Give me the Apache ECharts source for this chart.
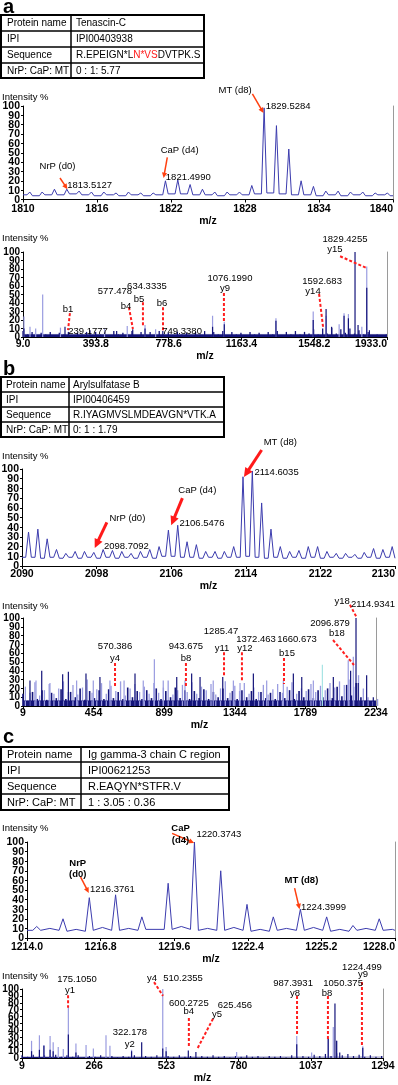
<!DOCTYPE html>
<html>
<head>
<meta charset="utf-8">
<script src="https://cdn.jsdelivr.net/npm/echarts@6/dist/echarts.min.js"></script>
<style>
  html, body { margin: 0; padding: 0; background: #fff; }
  #main { width: 398px; height: 1085px; }
</style>
</head>
<body>
<div id="main"></div>
<script>
// intensity ticks shared by all six spectra
const yTicks = [0, 10, 20, 30, 40, 50, 60, 70, 80, 90, 100];

// ---- panel a : MS spectrum (isotope peaks) ----
const aMsMz = [1810.55, 1811.55, 1812.55, 1813.55, 1814.55, 1815.55, 1816.55, 1817.55, 1818.55, 1819.55,
  1820.55, 1821.55, 1822.55, 1823.55, 1824.55, 1825.55, 1826.55, 1827.55, 1828.55, 1829.55,
  1830.55, 1831.55, 1832.55, 1833.55, 1834.55, 1835.55, 1836.55, 1837.55, 1838.55, 1839.55];
const aMsInt = [8, 8, 11, 11, 9, 8, 8, 7, 8, 7, 7, 20, 21, 16, 11, 8, 8, 8, 15, 98, 79, 54, 20, 14, 9, 9, 8, 8, 7, 7];
const aMsBase = [5, 4, 5, 5, 6, 5, 4, 5, 4, 5, 4, 5, 6, 6, 5, 5, 4, 5, 5, 6, 7, 6, 5, 5, 4, 5, 4, 5, 4, 5, 4];
const aMsTicks = [1810, 1816, 1822, 1828, 1834, 1840];
const aMsLabels = [[1827.2, 117, 'MT (d8)'], [1831.5, 100, '1829.5284'], [1822.7, 53, 'CaP (d4)'],
  [1823.4, 24, '1821.4990'], [1812.8, 35, 'NrP (d0)'], [1815.4, 15.5, '1813.5127']];
const aMsArrows = [[1828.6, 113, 1829.5, 92.5], [1821.7, 45, 1821.4, 23], [1813.0, 23, 1813.6, 11]];

// ---- panel a : MS/MS ----
const aMs2Floor = 3;
const aMs2Noise = [7, 3, 6, 2, 5, 3, 6, 2, 5, 3, 6, 2, 5, 3, 6, 2, 6, 3, 6, 2, 7, 3, 5, 3, 7, 2, 6,
  3, 6, 2, 7, 3, 5, 2, 6, 3, 5, 2, 6, 3, 7, 2, 6, 3, 7, 2, 6, 3, 5, 2, 6, 3, 5, 2,
  6, 3, 7, 2, 6, 3, 7, 3, 6, 4, 9, 3, 10, 4, 11, 4, 9, 5, 10, 4, 8, 3, 6, 2, 3, 2, 3];
const aMs2Light = [[14, 24], [46, 12], [76, 10], [113, 50], [207, 11], [440, 10], [560, 13], [654, 14], [710, 9],
  [1011, 25], [1073, 18], [1346, 22], [1543, 30], [1611, 25], [1680, 15], [1706, 28], [1729, 27], [1800, 12], [1826, 83]];
const aMs2Dark = [[14, 10], [231, 12], [363, 8], [504, 7], [589, 9], [654, 10], [748, 7], [1011, 12], [1073, 15],
  [1346, 19], [1543, 20], [1611, 33], [1640, 12], [1706, 25], [1729, 22], [1764, 100], [1780, 14], [1826, 58], [1840, 8]];
const aMs2Ticks = [9.0, 393.8, 778.6, 1163.4, 1548.2, 1933.0];
const aMs2Labels = [[1711, 115, '1829.4255'], [1658, 103.5, 'y15'], [1103, 69, '1076.1990'], [1077, 57.6, 'y9'],
  [1590, 66, '1592.683'], [1542, 54, 'y14'], [664, 60, '634.3335'], [622, 44.7, 'b5'], [495, 54, '577.478'],
  [553, 36.5, 'b4'], [744, 40, 'b6'], [850, 7, '749.3380'], [247, 33, 'b1'], [353, 7, '239.1777']];
const aMs2Lines = [[1685, 95, 1827, 81], [1071, 51.8, 1071, 17.6], [1574, 50.6, 1595, 11.8], [643, 41, 643, 13],
  [569, 35, 590, 9.4], [749, 35, 749, 8], [257, 28, 247, 8]];

// ---- panel b : MS ----
const bMsMz = [2090.7, 2091.7, 2092.7, 2093.7, 2094.7, 2095.7, 2096.7, 2097.7, 2098.7, 2099.7,
  2100.7, 2101.7, 2102.7, 2103.7, 2104.7, 2105.7, 2106.7, 2107.7, 2108.7, 2109.7,
  2110.7, 2111.7, 2112.7, 2113.7, 2114.7, 2115.7, 2116.7, 2117.7, 2118.7, 2119.7,
  2120.7, 2121.7, 2122.7, 2123.7, 2124.7, 2125.7, 2126.7, 2127.7, 2128.7, 2129.7];
const bMsInt = [35, 38, 28, 17, 13, 15, 15, 14, 17, 16, 15, 13, 15, 17, 20, 37, 42, 25, 22, 15,
  15, 15, 20, 92, 98, 65, 38, 20, 15, 16, 20, 20, 15, 13, 13, 12, 14, 18, 17, 20];
const bMsBase = [9, 9, 8, 9, 8, 9, 8, 9, 8, 9, 8, 9, 8, 9, 8, 10, 10, 9, 9, 8, 9, 8, 9, 9, 10, 9,
  8, 9, 8, 9, 8, 9, 8, 9, 8, 9, 8, 9, 8, 9, 8];
const bMsTicks = [2090, 2098, 2106, 2114, 2122, 2130];
const bMsLabels = [[2117.7, 127, 'MT (d8)'], [2117.3, 97, '2114.6035'], [2108.8, 78, 'CaP (d4)'],
  [2109.3, 44, '2106.5476'], [2101.3, 49.5, 'NrP (d0)'], [2101.2, 20.6, '2098.7092']];
const bMsArrows = [[2115.7, 119.6, 2113.8, 91.8], [2107.2, 70, 2106.0, 42], [2099.1, 45, 2097.8, 18.6]];

// ---- panel b : MS/MS ----
const bMs2Floor = 6;
const bMs2Noise = [14, 6, 16, 8, 18, 7, 15, 9, 19, 8, 16, 10, 20, 7, 17, 9, 18, 8,
  19, 9, 16, 8, 21, 10, 17, 8, 18, 9, 20, 8, 17, 10, 21, 9, 18, 8,
  17, 9, 19, 8, 16, 10, 20, 9, 17, 8, 18, 10, 17, 8, 16, 9, 15, 8,
  16, 9, 18, 8, 17, 10, 19, 9, 18, 10, 20, 9, 22, 11, 24, 12, 26, 10, 6, 3, 5];
const bMs2NoiseLight = [22, 15, 27, 12, 18, 25, 14, 20, 28, 16, 24, 13, 21, 30, 15, 19, 26, 14,
  23, 17, 28, 12, 20, 25, 16, 22, 14, 26, 15, 21, 29, 13, 18, 24, 16, 27,
  14, 22, 18, 25, 13, 20, 28, 15, 23, 17, 26, 14, 21, 16, 24, 13, 19, 25,
  15, 22, 27, 14, 20, 17, 25, 16, 23, 18, 26, 21, 28, 24, 30, 22, 35, 20, 10, 5, 8];
const bMs2Light = [[91, 29], [179, 26], [347, 29], [452, 29], [557, 29], [646, 29], [767, 29], [837, 53], [893, 29],
  [1030, 29], [1208, 29], [1335, 29], [1377, 26], [1545, 29], [1650, 29], [1839, 29], [2059, 52], [2091, 56]];
const bMs2Cyan = [[1896, 47]];
const bMs2Dark = [[53, 29], [127, 40], [259, 36], [295, 39], [406, 37], [494, 33], [715, 37], [978, 33], [1072, 37],
  [1125, 33], [1268, 33], [1461, 37], [1713, 37], [1766, 33], [1965, 33], [2074, 40], [2108, 100], [2122, 26],
  [2175, 35], [2217, 10]];
const bMs2Ticks = [9, 454, 899, 1344, 1789, 2234];
const bMs2Labels = [[2020, 119, 'y18'], [2215, 116, '2114.9341'], [1944, 94, '2096.879'], [1988, 82, 'b18'],
  [1257, 85, '1285.47'], [1263, 65, 'y11'], [1478, 76, '1372.463'], [1408, 65, 'y12'], [1736, 76, '1660.673'],
  [1673, 60, 'b15'], [1036, 68, '943.675'], [1036, 54.5, 'b8'], [589, 68, '570.386'], [589, 54.5, 'y4']];
const bMs2Lines = [[2070, 115, 2114, 100], [1963, 75, 2095, 46.6], [1276, 61, 1276, 33], [1389, 61, 1389, 27],
  [1654, 54.5, 1654, 25], [1036, 49, 1036, 21.6], [589, 49, 589, 21.6]];

// ---- panel c : MS ----
const cMsMz = [1214.37, 1215.37, 1216.37, 1217.37, 1218.37, 1219.37, 1220.37, 1221.37, 1222.37, 1223.37,
  1224.40, 1225.40, 1226.40, 1227.40];
const cMsInt = [12, 20, 42, 45, 22, 57, 100, 70, 35, 22, 30, 22, 13, 20];
const cMsBase = [8, 8, 7, 8, 8, 9, 9, 8, 8, 7, 8, 8, 7, 8, 8];
const cMsMid = [10, 9, 11, 10, 9, 12, 10, 11, 9, 10, 11, 9, 10, 9];
const cMsTicks = [1214.0, 1216.8, 1219.6, 1222.4, 1225.2, 1228.0];
const cMsLabels = [[1219.84, 114.6, 'CaP', 1], [1219.84, 102, '(d4)', 1], [1221.3, 108, '1220.3743'],
  [1215.93, 78, 'NrP', 1], [1215.93, 66.7, '(d0)', 1], [1217.25, 51, '1216.3761'],
  [1224.44, 60, 'MT (d8)', 1], [1225.28, 32, '1224.3999']];
const cMsArrows = [[1219.52, 109, 1220.36, 99], [1216.04, 63.5, 1216.35, 47], [1224.18, 52, 1224.37, 30]];

// ---- panel c : MS/MS ----
const cMs2Floor = 1.5;
const cMs2Noise = [4, 2, 5, 2, 4, 3, 5, 2, 4, 2, 4, 1, 3, 2, 4, 2, 3, 1, 3, 2, 4, 1, 3, 2, 4, 2, 3,
  2, 4, 2, 3, 1, 3, 2, 4, 2, 3, 1, 3, 2, 4, 2, 3, 1, 3, 2, 3, 1, 4, 2, 3, 2, 5, 3,
  6, 3, 7, 4, 6, 3, 5, 2, 4, 2, 3];
const cMs2Light = [[43, 25], [71, 33], [87, 19], [109, 32], [120, 23], [138, 16], [156, 13], [174, 74], [201, 21],
  [237, 19], [263, 14], [308, 33], [322, 18], [399, 12], [510, 100], [522, 16], [773, 9], [987, 32], [1040, 8],
  [1099, 28], [1117, 45], [1129, 25], [1222, 17]];
const cMs2Dark = [[43, 10], [71, 12], [87, 18], [109, 12], [120, 10], [174, 34], [201, 8], [399, 10], [435, 23],
  [510, 14], [522, 10], [601, 11], [628, 9], [987, 20], [1099, 29], [1123, 79], [1129, 25], [1140, 8], [1222, 15]];
const cMs2Ticks = [9, 266, 523, 780, 1037, 1294];
const cMs2Labels = [[205, 114, '175.1050'], [180, 97.5, 'y1'], [472, 116, 'y4'], [582, 116, '510.2355'],
  [393, 36.7, '322.178'], [393, 20, 'y2'], [603, 78.5, '600.2725'], [603, 67, 'b4'], [767, 76, '625.456'],
  [703, 63, 'y5'], [974, 107.6, '987.3931'], [981, 93.7, 'y8'], [1152, 107.6, '1050.375'], [1095, 93.7, 'b8'],
  [1219, 131.6, '1224.499'], [1223, 121.5, 'y9']];
const cMs2Lines = [[173, 91, 173, 73], [479, 110, 511, 90], [603, 58, 603, 16.5], [689, 57, 632, 12.7],
  [988, 90, 988, 33], [1098, 90, 1098, 26.6], [1219, 110, 1219, 16.5]];

// ---- tables ----
const tableA = [['Protein name', 'Tenascin-C'], ['IPI', 'IPI00403938'],
  ['Sequence', ['R.EPEIGN*L', 'N*VS', 'DVTPK.S']], ['NrP: CaP: MT', '0 : 1: 5.77']];
const tableB = [['Protein name', 'Arylsulfatase B'], ['IPI', 'IPI00406459'],
  ['Sequence', 'R.IYAGMVSLMDEAVGN*VTK.A'], ['NrP: CaP: MT', '0: 1 : 1.79']];
const tableC = [['Protein name', 'Ig gamma-3 chain C region'], ['IPI', 'IPI00621253'],
  ['Sequence', 'R.EAQYN*STFR.V'], ['NrP: CaP: MT', '1 : 3.05 : 0.36']];

const FONT = '"Liberation Sans", Arial, Helvetica, sans-serif';
const NAVY = '#14147a';
const LAV = '#9a9ce0';

// layout of the six plots
const grids = [
  { left: 23, top: 106, width: 370, height: 93.5 },
  { left: 23, top: 252, width: 364, height: 85 },
  { left: 22, top: 469, width: 375, height: 97 },
  { left: 23, top: 618, width: 353, height: 88 },
  { left: 27, top: 842, width: 370, height: 96 },
  { left: 22, top: 989, width: 361, height: 79 }
];
const xRanges = [[1810, 1840], [9, 1933], [2090, 2130], [9, 2234], [1214, 1228], [9, 1294]];
const xTicks = [aMsTicks, aMs2Ticks, bMsTicks, bMs2Ticks, cMsTicks, cMs2Ticks];
const xDecimals = [0, 1, 0, 0, 1, 0];
const labelMargin = [4, 2, 3, 2, 4, 3];
const nameGap = [10, 9, 10, 9, 13, 8];
const rightLine = [true, true, false, true, true, true];
const intensityY = [97, 238, 456, 606, 828, 976];

function peakLine(mz, h, base, w, x0, x1, mid) {
  const pts = [[x0, base[0]]];
  mz.forEach((m, i) => {
    pts.push([m - w, base[i]], [m, h[i]], [m + w, base[i + 1]]);
    if (mid) pts.push([m + 0.5, mid[i]]);
  });
  pts.push([x1, base[mz.length]]);
  return pts;
}

// noise values are read at an even m/z spacing
function noisePoints(vals, x0, step) {
  return vals.map((v, i) => [x0 + i * step, v]);
}

function lineSeries(g, data) {
  return {
    type: 'line', xAxisIndex: g, yAxisIndex: g * 2, data, showSymbol: false, silent: true, z: 3,
    lineStyle: { color: '#3c3cae', width: 1 }
  };
}

function floorSeries(g, level) {
  return {
    type: 'line', xAxisIndex: g, yAxisIndex: g * 2, data: [[xRanges[g][0], level], [xRanges[g][1], level]],
    showSymbol: false, silent: true, z: 2,
    lineStyle: { color: NAVY, width: 0.5 }, areaStyle: { color: NAVY, opacity: 1 }
  };
}

function stickSeries(g, data, color, z, w) {
  const bw = w || 1.2;
  return {
    type: 'custom', xAxisIndex: g, yAxisIndex: g * 2, data, silent: true, z,
    renderItem: (params, api) => {
      const top = api.coord([api.value(0), api.value(1)]);
      const bot = api.coord([api.value(0), 0]);
      return { type: 'rect', shape: { x: top[0] - bw / 2, y: top[1], width: bw, height: bot[1] - top[1] }, style: { fill: color } };
    }
  };
}

// y tick labels, drawn through the axis scale (the built-in ones drop 10/90 when crowded)
function yLabelSeries(g) {
  const fs = (g % 2 === 0) ? 10.5 : 10;
  return {
    type: 'custom', xAxisIndex: g, yAxisIndex: g * 2, silent: true, clip: false, z: 20,
    data: yTicks.map(v => [xRanges[g][0], v]),
    renderItem: (params, api) => {
      const p = api.coord([api.value(0), api.value(1)]);
      return {
        type: 'text', x: p[0] - 3, y: p[1] + 0.5,
        style: {
          text: String(api.value(1)), font: 'bold ' + fs + 'px ' + FONT, fill: '#000',
          align: 'right', verticalAlign: 'middle', textAlign: 'right', textVerticalAlign: 'middle'
        }
      };
    }
  };
}

function labelSeries(g, items) {
  return {
    type: 'custom', xAxisIndex: g, yAxisIndex: g * 2, silent: true, clip: false, z: 20,
    data: items.map(d => [d[0], d[1]]),
    renderItem: (params, api) => {
      const d = items[params.dataIndex];
      const p = api.coord([d[0], d[1]]);
      return {
        type: 'text', x: p[0], y: p[1],
        style: {
          text: d[2], font: (d[3] ? 'bold ' : '') + '9.5px ' + FONT, fill: '#000',
          align: 'center', verticalAlign: 'middle', textAlign: 'center', textVerticalAlign: 'middle'
        }
      };
    }
  };
}

function pointerSeries(g, items, st) {
  return {
    type: 'custom', xAxisIndex: g, yAxisIndex: g * 2, silent: true, clip: false, z: 15,
    data: items,
    renderItem: (params, api) => {
      const d = items[params.dataIndex];
      const a = api.coord([d[0], d[1]]);
      const b = api.coord([d[2], d[3]]);
      const children = [];
      if (st.head) {
        const ang = Math.atan2(b[1] - a[1], b[0] - a[0]);
        const s = st.head;
        const e = [b[0] - s * 0.7 * Math.cos(ang), b[1] - s * 0.7 * Math.sin(ang)];
        children.push({ type: 'line', shape: { x1: a[0], y1: a[1], x2: e[0], y2: e[1] }, style: { stroke: st.color, lineWidth: st.width } });
        children.push({
          type: 'polygon',
          shape: { points: [[b[0], b[1]],
            [b[0] - s * Math.cos(ang - 0.45), b[1] - s * Math.sin(ang - 0.45)],
            [b[0] - s * Math.cos(ang + 0.45), b[1] - s * Math.sin(ang + 0.45)]] },
          style: { fill: st.color }
        });
      } else {
        children.push({ type: 'line', shape: { x1: a[0], y1: a[1], x2: b[0], y2: b[1] }, style: { stroke: st.color, lineWidth: st.width, lineDash: st.dash } });
      }
      return { type: 'group', children };
    }
  };
}

const dashStyle = { color: '#ff1f1f', width: 2, dash: [3, 2] };

const series = [
  lineSeries(0, peakLine(aMsMz, aMsInt, aMsBase, 0.22, 1810, 1840)),
  labelSeries(0, aMsLabels),
  pointerSeries(0, aMsArrows, { color: '#ff4010', width: 1.5, head: 6 }),

  floorSeries(1, aMs2Floor),
  stickSeries(1, noisePoints(aMs2Noise, 9, 24), NAVY, 2, 1.3),
  stickSeries(1, aMs2Light, LAV, 3),
  stickSeries(1, aMs2Dark, NAVY, 4),
  labelSeries(1, aMs2Labels),
  pointerSeries(1, aMs2Lines, dashStyle),

  lineSeries(2, peakLine(bMsMz, bMsInt, bMsBase, 0.3, 2090, 2130)),
  labelSeries(2, bMsLabels),
  pointerSeries(2, bMsArrows, { color: '#ff1a1a', width: 3, head: 10 }),

  floorSeries(3, bMs2Floor),
  stickSeries(3, noisePoints(bMs2NoiseLight, 24, 30), LAV, 2, 1.3),
  stickSeries(3, noisePoints(bMs2Noise, 9, 30), NAVY, 2, 1.6),
  stickSeries(3, bMs2Light, LAV, 3),
  stickSeries(3, bMs2Cyan, '#a6e4e4', 3),
  stickSeries(3, bMs2Dark, NAVY, 4),
  labelSeries(3, bMs2Labels),
  pointerSeries(3, bMs2Lines, dashStyle),

  lineSeries(4, peakLine(cMsMz, cMsInt, cMsBase, 0.15, 1214, 1228, cMsMid)),
  labelSeries(4, cMsLabels),
  pointerSeries(4, cMsArrows, { color: '#ff4010', width: 1.5, head: 6 }),

  floorSeries(5, cMs2Floor),
  stickSeries(5, noisePoints(cMs2Noise, 9, 20), NAVY, 2, 1.2),
  stickSeries(5, cMs2Light, LAV, 3),
  stickSeries(5, cMs2Dark, NAVY, 4),
  labelSeries(5, cMs2Labels),
  pointerSeries(5, cMs2Lines, dashStyle)
].concat(grids.map((g, i) => yLabelSeries(i)));

// tables, panel letters, axis titles
const tableBoxes = [
  { rows: tableA, x1: 204, col: 71, ys: [15, 31, 47, 63, 78], font: 10, tx: [7, 76] },
  { rows: tableB, x1: 224, col: 69, ys: [377, 392, 407, 422, 437], font: 10, tx: [6, 73] },
  { rows: tableC, x1: 229, col: 81, ys: [747, 762, 778, 794, 810], font: 11, tx: [7, 88] }
];

function txt(x, y, text, font, extra) {
  return {
    type: 'text', x, y, silent: true,
    style: Object.assign({
      text, font, fill: '#000', align: 'left', verticalAlign: 'middle',
      textAlign: 'left', textVerticalAlign: 'middle'
    }, extra || {})
  };
}

const graphics = [];
tableBoxes.forEach(t => {
  const y0 = t.ys[0], y4 = t.ys[4];
  graphics.push({ type: 'rect', silent: true, shape: { x: 1, y: y0, width: t.x1 - 1, height: y4 - y0 }, style: { fill: 'none', stroke: '#000', lineWidth: 2 } });
  graphics.push({ type: 'line', silent: true, shape: { x1: t.col, y1: y0, x2: t.col, y2: y4 }, style: { stroke: '#000', lineWidth: 1.5 } });
  for (let r = 1; r < 4; r++) {
    graphics.push({ type: 'line', silent: true, shape: { x1: 1, y1: t.ys[r], x2: t.x1, y2: t.ys[r] }, style: { stroke: '#000', lineWidth: 1.5 } });
  }
  const f = t.font + 'px ' + FONT;
  t.rows.forEach((row, r) => {
    const cy = (t.ys[r] + t.ys[r + 1]) / 2 + 0.5;
    graphics.push(txt(t.tx[0], cy, row[0], f));
    if (Array.isArray(row[1])) {
      graphics.push(txt(t.tx[1], cy, '{k|' + row[1][0] + '}{r|' + row[1][1] + '}{k|' + row[1][2] + '}', f, {
        rich: { k: { fill: '#000', font: f }, r: { fill: '#ff1a1a', font: f } }
      }));
    } else {
      graphics.push(txt(t.tx[1], cy, row[1], f));
    }
  });
});
[['a', 7], ['b', 369], ['c', 737]].forEach(([l, y]) => graphics.push(txt(3, y, l, 'bold 20px ' + FONT)));
intensityY.forEach(y => graphics.push(txt(2, y, 'Intensity %', '9.5px ' + FONT)));

const option = {
  animation: false,
  backgroundColor: '#fff',
  textStyle: { fontFamily: FONT },
  grid: grids.map(g => Object.assign({ containLabel: false }, g)),
  xAxis: grids.map((g, i) => ({
    gridIndex: i, type: 'value', min: xRanges[i][0], max: xRanges[i][1],
    name: 'm/z', nameLocation: 'middle', nameGap: nameGap[i],
    nameTextStyle: { fontWeight: 'bold', fontSize: 10.5, color: '#000', fontFamily: FONT },
    axisLine: { onZero: false, lineStyle: { color: '#000', width: 1 } },
    axisTick: { show: true, length: 3, customValues: xTicks[i], lineStyle: { color: '#000' } },
    axisLabel: {
      customValues: xTicks[i], margin: labelMargin[i], color: '#000', fontWeight: 'bold', fontSize: 10.5, fontFamily: FONT,
      formatter: v => Number(v).toFixed(xDecimals[i]),
      showMinLabel: true, showMaxLabel: true,
      alignMaxLabel: (i === 0 || i === 1 || i === 2 || i === 4) ? 'right' : 'center'
    },
    splitLine: { show: false }
  })),
  yAxis: grids.flatMap((g, i) => [
    {
      gridIndex: i, type: 'value', min: 0, max: 100, interval: 10, position: 'left',
      axisLine: { show: true, onZero: false, lineStyle: { color: '#000', width: 1 } },
      axisTick: { show: true, length: 2, lineStyle: { color: '#000' } },
      axisLabel: { show: false },
      splitLine: { show: false }
    },
    {
      gridIndex: i, type: 'value', min: 0, max: 100, position: 'right',
      axisLine: { show: rightLine[i], onZero: false, lineStyle: { color: '#9a9a9a', width: 1 } },
      axisTick: { show: false }, axisLabel: { show: false }, splitLine: { show: false }
    }
  ]),
  graphic: { elements: graphics },
  series
};

const chart = echarts.init(document.getElementById('main'), null, { renderer: 'canvas' });
chart.setOption(option);
</script>
</body>
</html>
